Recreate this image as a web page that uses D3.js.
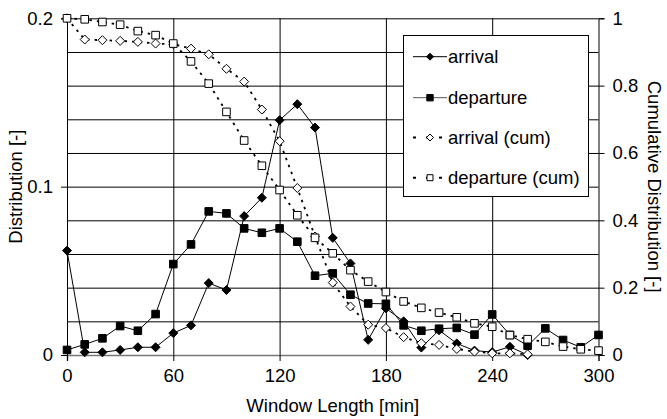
<!DOCTYPE html>
<html>
<head>
<meta charset="utf-8">
<script src="https://cdn.jsdelivr.net/npm/d3@7"></script>
<style>
  body { margin: 0; background: #fff; }
  text { font-family: "Liberation Sans", Arial, sans-serif; fill: #000; }
</style>
</head>
<body>
<script>
// window length in minutes (x axis)
var minutes = [0, 10, 20, 30, 40, 50, 60, 70, 80, 90, 100, 110, 120, 130, 140, 150,
               160, 170, 180, 190, 200, 210, 220, 230, 240, 250, 260, 270, 280, 290, 300];

// distribution values (left axis) - arrival stops at 260
var arrival = [0.062, 0.0016, 0.0016, 0.003, 0.0046, 0.0046, 0.013, 0.0176, 0.0427, 0.0386,
               0.0825, 0.0934, 0.1395, 0.149, 0.1351, 0.0696, 0.0544, 0.009, 0.0277, 0.020,
               0.0044, 0.0147, 0.0069, 0.0026, 0.0017, 0.0049, 0.0];
var departure = [0.003, 0.0063, 0.0099, 0.0172, 0.0144, 0.0243, 0.054, 0.0657, 0.0853, 0.0841,
                 0.0752, 0.0726, 0.0752, 0.0673, 0.0471, 0.0485, 0.0358, 0.0306, 0.0304, 0.0176,
                 0.0144, 0.0156, 0.0161, 0.0121, 0.0241, 0.0119, 0.0055, 0.0158, 0.0089, 0.0046, 0.0119];

// cumulative values (right axis)
var arrivalCum = [1.0, 0.937, 0.935, 0.933, 0.930, 0.925, 0.923, 0.910, 0.893, 0.850,
                  0.812, 0.729, 0.635, 0.496, 0.352, 0.215, 0.144, 0.090, 0.080, 0.053,
                  0.035, 0.030, 0.018, 0.010, 0.005, 0.005, 0.002];
var departureCum = [1.0, 0.997, 0.989, 0.981, 0.962, 0.950, 0.925, 0.872, 0.806, 0.722,
                    0.637, 0.562, 0.490, 0.415, 0.348, 0.302, 0.252, 0.218, 0.187, 0.159,
                    0.140, 0.126, 0.112, 0.094, 0.084, 0.059, 0.047, 0.039, 0.025, 0.017, 0.013];

var xTicks = [0, 60, 120, 180, 240, 300];
var xGrid = [60, 120, 180, 240];
var yLeftTicks = [0, 0.1, 0.2];
var yGrid = [0.02, 0.04, 0.06, 0.08, 0.1, 0.12, 0.14, 0.16, 0.18, 0.2];
var yRightTicks = [0, 0.2, 0.4, 0.6, 0.8, 1];

var legendNames = ["arrival", "departure", "arrival (cum)", "departure (cum)"];

(function() {
var W = 667, H = 419;
var mLeft = 67, mRight = 598.5, mTop = 18.3, mBottom = 355;

var svg = d3.select("body").append("svg")
    .attr("width", W)
    .attr("height", H);

var x = d3.scaleLinear().domain([0, 300]).range([mLeft, mRight]),
    yL = d3.scaleLinear().domain([0, 0.2]).range([mBottom, mTop]),
    yR = d3.scaleLinear().domain([0, 1]).range([mBottom, mTop]);

// grid
svg.append("g")
    .attr("transform", "translate(" + mLeft + ",0)")
    .call(d3.axisLeft(yL).tickValues(yGrid).tickSize(-(mRight - mLeft)).tickFormat(""))
    .call(function(g) { g.select(".domain").remove(); })
    .selectAll("line").attr("stroke", "#000").attr("stroke-width", 1);

svg.append("g")
    .attr("transform", "translate(0," + mBottom + ")")
    .call(d3.axisBottom(x).tickValues(xGrid).tickSize(-(mBottom - mTop)).tickFormat(""))
    .call(function(g) { g.select(".domain").remove(); })
    .selectAll("line").attr("stroke", "#000").attr("stroke-width", 1);

// axes
var fontSize = "18.5px";

var xAxis = svg.append("g")
    .attr("transform", "translate(0," + mBottom + ")")
    .call(d3.axisBottom(x).tickValues(xTicks).tickSizeOuter(0).tickSize(6).tickPadding(8));
xAxis.select(".domain").attr("stroke", "#777").attr("stroke-width", 1.6);

var yAxisL = svg.append("g")
    .attr("transform", "translate(" + mLeft + ",0)")
    .call(d3.axisLeft(yL).tickValues(yLeftTicks).tickSizeOuter(0).tickSize(6).tickPadding(8)
      .tickFormat(d3.format("~g")));

var yAxisR = svg.append("g")
    .attr("transform", "translate(" + mRight + ",0)")
    .call(d3.axisRight(yR).tickValues(yRightTicks).tickSizeOuter(0).tickSize(6).tickPadding(8)
      .tickFormat(d3.format("~g")));

svg.selectAll(".tick text")
    .style("font-size", fontSize)
    .attr("fill", "#000")
    .style("font-family", "'Liberation Sans', Arial, sans-serif");
svg.selectAll(".tick line").attr("stroke", "#000");
yAxisL.select(".domain").attr("stroke", "#000");
yAxisR.select(".domain").attr("stroke", "#000");

// axis titles
svg.append("text")
    .attr("x", (mLeft + mRight) / 2)
    .attr("y", 412)
    .attr("text-anchor", "middle")
    .style("font-size", fontSize)
    .text("Window Length [min]");

svg.append("text")
    .attr("transform", "translate(22," + (mBottom + mTop) / 2 + ") rotate(-90)")
    .attr("text-anchor", "middle")
    .style("font-size", fontSize)
    .text("Distribution [-]");

svg.append("text")
    .attr("transform", "translate(648," + (mBottom + mTop) / 2 + ") rotate(90)")
    .attr("text-anchor", "middle")
    .style("font-size", fontSize)
    .text("Cumulative Distribution [-]");

// series
function diamondPath(s) { return "M0," + (-s) + "L" + s + ",0L0," + s + "L" + (-s) + ",0Z"; }
function squarePath(s) { return "M" + (-s) + "," + (-s) + "H" + s + "V" + s + "H" + (-s) + "Z"; }

var series = [
  {name: legendNames[0], values: arrival, y: yL, dash: null, shape: diamondPath(4.5), fill: "#000"},
  {name: legendNames[1], values: departure, y: yL, dash: null, shape: squarePath(3.8), fill: "#000"},
  {name: legendNames[2], values: arrivalCum, y: yR, dash: "2.5,5", shape: diamondPath(4.5), fill: "#fff"},
  {name: legendNames[3], values: departureCum, y: yR, dash: "2.5,5", shape: squarePath(3.8), fill: "#fff"}
];

function lineGen(s) {
  return d3.line()
    .x(function(d, i) { return x(minutes[i]); })
    .y(function(d) { return s.y(d); })(s.values);
}

series.forEach(function(s) {
  svg.append("path")
    .attr("d", lineGen(s))
    .attr("fill", "none")
    .attr("stroke", "#000")
    .attr("stroke-width", s.dash ? 1.8 : 1)
    .attr("stroke-dasharray", s.dash);
});

series.forEach(function(s) {
  svg.append("g").selectAll("path")
    .data(s.values)
    .enter().append("path")
      .attr("transform", function(d, i) { return "translate(" + x(minutes[i]) + "," + s.y(d) + ")"; })
      .attr("d", s.shape)
      .attr("fill", s.fill)
      .attr("stroke", "#000")
      .attr("stroke-width", 1);
});

// legend
var lg = svg.append("g");
lg.append("rect")
    .attr("x", 403.5).attr("y", 35.5)
    .attr("width", 185).attr("height", 161)
    .attr("fill", "#fff")
    .attr("stroke", "#000");

var legendY = [56.7, 97.7, 137.5, 177.7];
series.forEach(function(s, i) {
  var gy = legendY[i];
  lg.append("line")
    .attr("x1", 413).attr("x2", 447)
    .attr("y1", gy).attr("y2", gy)
    .attr("stroke", i === 1 ? "#555" : "#000")
    .attr("stroke-width", s.dash ? 2 : 1)
    .attr("stroke-dasharray", s.dash ? "3,10" : null);
  lg.append("path")
    .attr("transform", "translate(430," + gy + ")")
    .attr("d", s.dash ? (i === 2 ? diamondPath(3.5) : squarePath(3)) : (i === 0 ? diamondPath(3.5) : squarePath(3.2)))
    .attr("fill", s.fill)
    .attr("stroke", "#000");
  lg.append("text")
    .attr("x", 448).attr("y", gy)
    .attr("dy", "0.35em")
    .style("font-size", fontSize)
    .text(s.name);
});
})();
</script>
</body>
</html>
